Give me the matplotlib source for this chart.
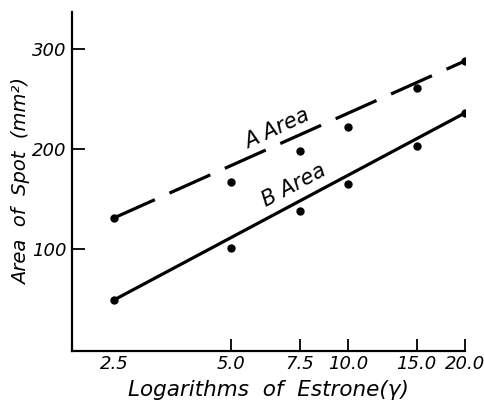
import numpy as np
import matplotlib
matplotlib.use('Agg')
import matplotlib.pyplot as plt

# estrone dose (gamma) and spot areas (mm^2)
dose = [2.5, 5.0, 7.5, 10.0, 15.0, 20.0]
area_A = [131, 167, 198, 222, 261, 288]
area_B = [49, 101, 138, 165, 203, 236]
# straight lines drawn through the points (end values)
fit_x = [2.5, 20.0]
fit_A = [131, 288]
fit_B = [49, 236]

xticks = [2.5, 5.0, 7.5, 10.0, 15.0, 20.0]
xtick_labels = ['2.5', '5.0', '7.5', '10.0', '15.0', '20.0']
yticks = [100, 200, 300]

plt.rcParams['font.family'] = ['DejaVu Sans']
plt.rcParams['font.style'] = 'italic'

fig = plt.figure(figsize=(4.84, 4.09), dpi=100)
ax = fig.add_axes([0.149, 0.142, 0.812, 0.829])

ax.plot(fit_x, fit_A, color='black', lw=2.3, dashes=(14, 5), solid_capstyle='butt')
ax.plot(fit_x, fit_B, color='black', lw=2.3)
ax.plot(dose, area_A, 'o', color='black', ms=5)
ax.plot(dose, area_B, 'o', color='black', ms=5)

ax.set_xscale('log')
ax.set_xlim(1.95, 20.0)
ax.set_ylim(-2, 337)
ax.minorticks_off()
ax.set_xticks(xticks)
ax.set_xticklabels(xtick_labels)
ax.set_yticks(yticks)
ax.xaxis.get_major_ticks()[0].tick1line.set_visible(False)

ax.tick_params(axis='both', direction='in', length=9, width=1.3, labelsize=13)
ax.tick_params(axis='x', pad=3)
ax.tick_params(axis='y', pad=4)

for s in ['top', 'right']:
    ax.spines[s].set_visible(False)
for s in ['left', 'bottom']:
    ax.spines[s].set_linewidth(1.6)

ax.text(6.57, 220, 'A Area', fontsize=15, rotation=25, ha='center', va='center',
        rotation_mode='anchor')
ax.text(7.26, 164, 'B Area', fontsize=15, rotation=28, ha='center', va='center',
        rotation_mode='anchor')

ax.set_xlabel('Logarithms  of  Estrone(\u03b3)', fontsize=15.5, labelpad=5)
ax.set_ylabel('Area  of  Spot  (mm\u00b2)', fontsize=14, labelpad=1)

fig.savefig('out.png', dpi=100)
